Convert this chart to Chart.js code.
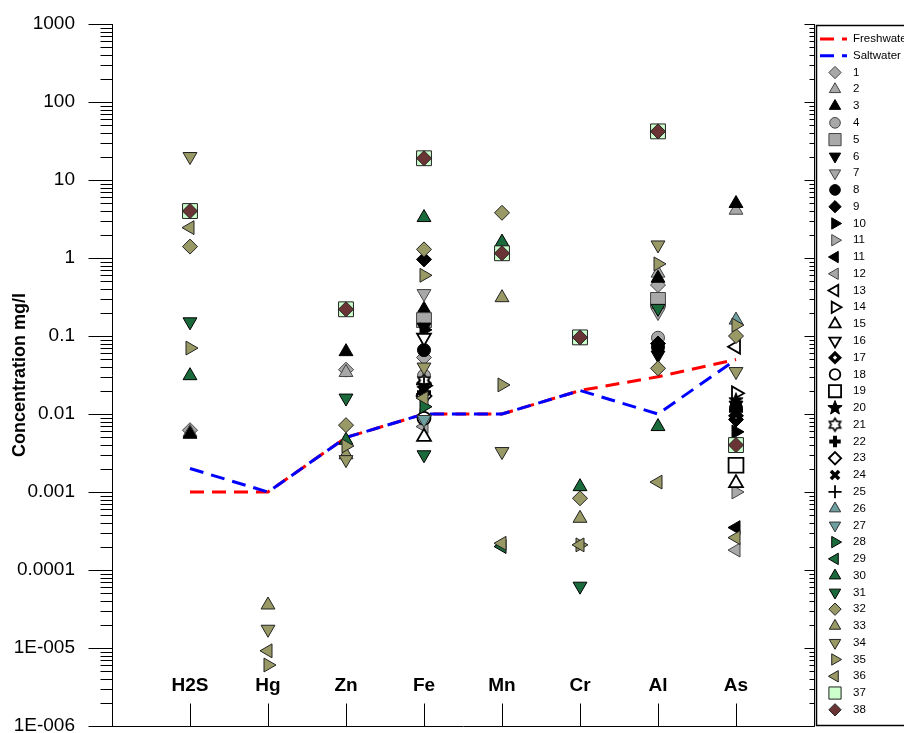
<!DOCTYPE html>
<html>
<head>
<meta charset="utf-8">
<title>Concentration by element</title>
<script src="https://cdn.jsdelivr.net/npm/chart.js@4.4.1/dist/chart.umd.min.js"></script>
<style>
  html, body { margin: 0; padding: 0; background: #fff; }
  #wrap { width: 904px; height: 733px; }
</style>
</head>
<body>
<div id="wrap"><canvas id="chart" width="904" height="733"></canvas></div>
<script>
// categories along the x axis
const categories = ['H2S', 'Hg', 'Zn', 'Fe', 'Mn', 'Cr', 'Al', 'As'];

// guideline lines (mg/l)
const freshwater = [0.001, 0.001, 0.005, 0.01, 0.01, 0.02, 0.03, 0.05];
const saltwater  = [0.002, 0.001, 0.005, 0.01, 0.01, 0.02, 0.01, 0.05];

// y tick labels, 1E-006 .. 1000
const yTickLabels = ['1E-006', '1E-005', '0.0001', '0.001', '0.01', '0.1', '1', '10', '100', '1000'];

// sample series names (note "11" shows up twice in the legend)
const seriesLabels = ['1','2','3','4','5','6','7','8','9','10','11','11','12','13','14','15','16','17','18','19',
  '20','21','22','23','24','25','26','27','28','29','30','31','32','33','34','35','36','37','38'];

const n = null;
// one row per series, columns follow categories: H2S, Hg, Zn, Fe, Mn, Cr, Al, As
const seriesValues = [
  [0.0062, n, 0.037, 0.053, n, n, 0.45, n],          // 1
  [0.0058, n, 0.034, n, n, n, 0.64, 4.1],            // 2
  [0.0055, n, 0.063, 0.22, n, n, 0.55, 5.0],         // 3
  [n, n, n, 0.031, n, n, 0.095, n],                  // 4
  [n, n, n, 0.16, n, n, 0.29, n],                    // 5
  [n, n, n, 0.13, n, n, 0.057, 0.013],               // 6
  [n, n, n, 0.35, n, n, 0.2, n],                     // 7
  [n, n, n, 0.066, n, n, 0.072, 0.012],              // 8
  [n, n, n, 0.96, n, n, 0.08, 0.0085],               // 9
  [n, n, n, 0.12, n, n, n, 0.0059],                  // 10
  [n, n, n, 0.0095, n, n, n, 0.001],                 // 11
  [n, n, n, 0.018, n, n, n, 0.00035],                // 11
  [n, n, n, 0.0069, n, n, n, 0.00018],               // 12
  [n, n, n, n, n, n, n, 0.073],                      // 13
  [n, n, n, 0.023, n, n, n, 0.0184],                 // 14
  [n, n, n, 0.0051, n, n, n, 0.0013],                // 15
  [n, n, n, 0.095, n, n, n, n],                      // 16
  [n, n, n, 0.025, n, n, n, 0.0095],                 // 17
  [n, n, n, 0.0088, n, n, n, n],                     // 18
  [n, n, n, n, n, n, n, 0.0022],                     // 19
  [n, n, n, 0.021, n, n, n, 0.015],                  // 20
  [n, n, n, 0.027, n, n, n, n],                      // 21
  [n, n, n, 0.019, n, n, n, 0.011],                  // 22
  [n, n, n, 0.017, n, n, n, n],                      // 23
  [n, n, n, 0.02, n, n, n, 0.01],                    // 24
  [n, n, n, 0.024, n, n, n, n],                      // 25
  [n, n, n, n, n, n, n, 0.16],                       // 26
  [n, n, n, 0.0085, n, n, n, n],                     // 27
  [n, n, n, 0.0124, n, n, n, n],                     // 28
  [n, n, n, n, 0.0002, n, n, n],                     // 29
  [0.031, n, 0.0046, 3.3, 1.6, 0.00117, 0.0069, n],  // 30
  [0.152, n, 0.016, 0.003, n, 6.2e-5, 0.226, n],     // 31
  [1.4, n, 0.0072, 1.29, 3.8, 0.00083, 0.0385, 0.1], // 32
  [n, 3.56e-5, 0.003, n, 0.31, 0.00046, n, n],       // 33
  [20, 1.74e-5, 0.0026, 0.04, 0.0033, n, 1.47, 0.035],        // 34
  [0.07, 6.05e-6, 0.0039, 0.6, 0.0236, 0.00021, 0.84, 0.138], // 35
  [2.45, 9.2e-6, n, 0.016, 0.00022, 0.00021, 0.00134, 0.00026], // 36
  [4, n, 0.22, 19, 1.15, 0.096, 42, 0.004],          // 37
  [4, n, 0.22, 19, 1.15, 0.096, 42, 0.004]           // 38
];

// marker colours
const GRAY = '#a8a8a8', BLK = '#000000', WHT = '#ffffff', TEAL = '#6d9fa1',
      DKG = '#1b6a3b', OLV = '#999966', LTG = '#ccffcc', BRN = '#6a3434';

function starCanvas(points, rOut, rIn, fill, stroke, lw) {
  const size = Math.ceil(rOut * 2 + lw + 2);
  const c = document.createElement('canvas');
  c.width = size; c.height = size;
  const g = c.getContext('2d');
  g.translate(size / 2, size / 2);
  g.beginPath();
  for (let i = 0; i < points * 2; i++) {
    const r = i % 2 === 0 ? rOut : rIn;
    const a = -Math.PI / 2 + i * Math.PI / points;
    if (i === 0) g.moveTo(r * Math.cos(a), r * Math.sin(a));
    else g.lineTo(r * Math.cos(a), r * Math.sin(a));
  }
  g.closePath();
  g.fillStyle = fill; g.fill();
  g.lineWidth = lw; g.strokeStyle = stroke; g.stroke();
  return c;
}
const star5 = starCanvas(5, 7.5, 3.2, BLK, BLK, 1);
const star6 = starCanvas(6, 6.5, 3.8, WHT, BLK, 1.6);

// [pointStyle, rotation, fill, border, radius, borderWidth]
const TRI = 8, DIA = 7.5, CIR = 6.5, SQR = 10.5;
const seriesMarkers = [
  ['rectRot', 0, GRAY, '#444', DIA, 1],      // 1
  ['triangle', 0, GRAY, '#444', TRI, 1],     // 2
  ['triangle', 0, BLK, BLK, TRI, 1],         // 3
  ['circle', 0, GRAY, '#444', CIR, 1],       // 4
  ['rect', 0, GRAY, '#444', SQR, 1],         // 5
  ['triangle', 180, BLK, BLK, TRI, 1],       // 6
  ['triangle', 180, GRAY, '#444', TRI, 1],   // 7
  ['circle', 0, BLK, BLK, CIR, 1],           // 8
  ['rectRot', 0, BLK, BLK, DIA, 1],          // 9
  ['triangle', 90, BLK, BLK, TRI, 1],        // 10
  ['triangle', 90, GRAY, '#444', TRI, 1],    // 11
  ['triangle', -90, BLK, BLK, TRI, 1],       // 11
  ['triangle', -90, GRAY, '#444', TRI, 1],   // 12
  ['triangle', -90, WHT, BLK, TRI, 1.8],     // 13
  ['triangle', 90, WHT, BLK, TRI, 1.8],      // 14
  ['triangle', 0, WHT, BLK, TRI, 1.8],       // 15
  ['triangle', 180, WHT, BLK, TRI, 1.8],     // 16
  ['rectRot', 0, WHT, BLK, 5.5, 3.5],        // 17
  ['circle', 0, WHT, BLK, CIR, 1.8],         // 18
  ['rect', 0, WHT, BLK, SQR, 1.8],           // 19
  [star5, 0, BLK, BLK, 7, 1],                // 20
  [star6, 0, WHT, BLK, 7, 1],                // 21
  ['cross', 0, BLK, BLK, 7, 4],              // 22
  ['rectRot', 0, WHT, BLK, DIA, 1.8],        // 23
  ['crossRot', 0, BLK, BLK, 7, 3.5],         // 24
  ['cross', 0, BLK, BLK, 8, 1.8],            // 25
  ['triangle', 0, TEAL, '#333', TRI, 1],     // 26
  ['triangle', 180, TEAL, '#333', TRI, 1],   // 27
  ['triangle', 90, DKG, BLK, TRI, 1],        // 28
  ['triangle', -90, DKG, BLK, TRI, 1],       // 29
  ['triangle', 0, DKG, BLK, TRI, 1],         // 30
  ['triangle', 180, DKG, BLK, TRI, 1],       // 31
  ['rectRot', 0, OLV, '#222', DIA, 1],       // 32
  ['triangle', 0, OLV, '#222', TRI, 1],      // 33
  ['triangle', 180, OLV, '#222', TRI, 1],    // 34
  ['triangle', 90, OLV, '#222', TRI, 1],     // 35
  ['triangle', -90, OLV, '#222', TRI, 1],    // 36
  ['rect', 0, LTG, '#222', SQR, 1],          // 37
  ['rectRot', 0, BRN, '#222', DIA, 1]        // 38
];

const FONT = "'Liberation Sans', Arial, Helvetica, sans-serif";

function toPoints(values) {
  const pts = [];
  values.forEach((v, i) => { if (v !== null) pts.push({ x: i, y: v }); });
  return pts;
}

const datasets = [
  {
    label: 'Freshwater', data: toPoints(freshwater), showLine: true,
    borderColor: '#ff0000', borderWidth: 3, borderDash: [14, 8], pointRadius: 0,
    fill: false, order: 1000
  },
  {
    label: 'Saltwater', data: toPoints(saltwater), showLine: true,
    borderColor: '#0000ff', borderWidth: 3, borderDash: [14, 8], pointRadius: 0,
    fill: false, order: 999
  }
];
seriesValues.forEach((row, i) => {
  const m = seriesMarkers[i];
  datasets.push({
    label: seriesLabels[i],
    data: toPoints(row),
    showLine: false,
    pointStyle: m[0], rotation: m[1],
    backgroundColor: m[2], borderColor: m[3],
    pointRadius: m[4], pointBorderWidth: m[5],
    pointHoverRadius: m[4],
    order: 100 - i
  });
});

// bottom frame, tick marks, category labels and the boxed legend
const decorations = {
  id: 'decorations',
  afterDraw(chart) {
    const { ctx, chartArea: a, scales } = chart;
    const x = scales.x, y = scales.y;
    ctx.save();
    ctx.strokeStyle = '#000';
    ctx.lineWidth = 1;
    ctx.setLineDash([]);
    ctx.beginPath();
    const bot = Math.round(a.bottom) + 0.5;
    const rx = Math.round(a.right) + 0.5;
    const lx = Math.round(a.left) + 0.5;
    ctx.moveTo(lx, bot); ctx.lineTo(rx, bot);
    ctx.moveTo(rx, a.top); ctx.lineTo(rx, bot);
    for (let d = -6; d <= 3; d++) {
      for (let k = 1; k <= 9; k++) {
        if (d === 3 && k > 1) break;
        const py = Math.round(y.getPixelForValue(k * Math.pow(10, d))) + 0.5;
        const len = k === 1 ? 24 : 12;
        ctx.moveTo(lx - len, py); ctx.lineTo(lx, py);
        const rl = k === 1 ? 10 : 5;
        ctx.moveTo(rx - rl, py); ctx.lineTo(rx, py);
      }
    }
    categories.forEach((c, i) => {
      const px = Math.round(x.getPixelForValue(i)) + 0.5;
      ctx.moveTo(px, bot); ctx.lineTo(px, bot - 23);
    });
    ctx.stroke();

    ctx.fillStyle = '#000';
    ctx.font = 'bold 19px ' + FONT;
    ctx.textAlign = 'center';
    ctx.textBaseline = 'middle';
    const labelY = y.getPixelForValue(3.3e-6);
    categories.forEach((c, i) => {
      ctx.fillText(c, x.getPixelForValue(i), labelY);
    });

    // legend box
    const boxL = Math.round(a.right) + 2, boxT = 25, boxB = 725;
    ctx.fillStyle = '#fff';
    ctx.fillRect(boxL, boxT, 200, boxB - boxT);
    ctx.lineWidth = 1.5;
    ctx.strokeRect(boxL + 0.5, boxT + 0.5, 200, boxB - boxT);

    const step = 16.77, firstY = 39;
    ctx.font = '11.5px ' + FONT;
    ctx.textAlign = 'left';
    chart.data.datasets.forEach((ds, i) => {
      const cy = firstY + step * i;
      if (ds.showLine) {
        ctx.strokeStyle = ds.borderColor;
        ctx.lineWidth = 3;
        ctx.setLineDash([14, 8]);
        ctx.beginPath();
        ctx.moveTo(820, cy); ctx.lineTo(847, cy);
        ctx.stroke();
        ctx.setLineDash([]);
      } else {
        ctx.fillStyle = ds.backgroundColor;
        ctx.strokeStyle = ds.borderColor;
        ctx.lineWidth = ds.pointBorderWidth;
        Chart.helpers.drawPoint(ctx, {
          pointStyle: ds.pointStyle, rotation: ds.rotation,
          radius: ds.pointRadius * 0.82, borderWidth: ds.pointBorderWidth
        }, 835, cy);
      }
      ctx.fillStyle = '#000';
      ctx.fillText(ds.label, 853, cy);
    });
    ctx.restore();
  }
};

new Chart(document.getElementById('chart'), {
  type: 'scatter',
  data: { datasets },
  options: {
    responsive: false,
    devicePixelRatio: 1,
    animation: false,
    events: [],
    layout: { autoPadding: false, padding: { left: 0, right: 90, top: 24, bottom: 7 } },
    plugins: { legend: { display: false }, tooltip: { enabled: false } },
    scales: {
      x: { type: 'linear', min: -1, max: 8, display: false },
      y: {
        type: 'logarithmic', min: 1e-6, max: 1000, position: 'left',
        afterFit(scale) { scale.width = 112; scale.paddingTop = 0; scale.paddingBottom = 0; },
        grid: { display: false, drawTicks: false },
        border: { display: true, color: '#000', width: 1 },
        ticks: {
          autoSkip: false, padding: 37, color: '#000',
          font: { family: FONT, size: 19, lineHeight: 0.7 },
          callback(value) {
            const e = Math.log10(value);
            const r = Math.round(e);
            if (Math.abs(e - r) > 1e-6) return '';
            return yTickLabels[r + 6];
          }
        },
        title: {
          display: true, text: 'Concentration mg/l', color: '#000',
          font: { family: FONT, size: 18, weight: 'bold' },
          padding: { top: 9, bottom: 0 }
        }
      }
    }
  },
  plugins: [decorations]
});
</script>
</body>
</html>
